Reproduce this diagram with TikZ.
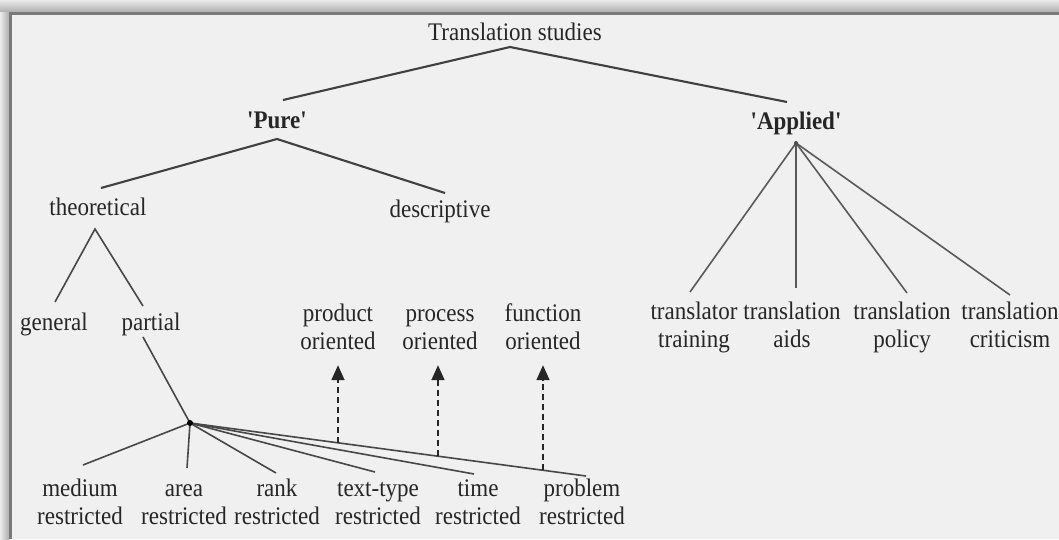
\documentclass[tikz,border=0pt]{standalone}
\usepackage{fontspec}
\setmainfont{Liberation Serif}
\usetikzlibrary{arrows.meta,calc}
\newcommand\tl[1]{\scalebox{1}[1.1]{\strut #1}}
\begin{document}
\begin{tikzpicture}[x=1pt,y=-1pt,
  lbl/.style={font=\fontsize{23}{25}\selectfont, text=black!85, inner sep=0pt, align=center},
  bld/.style={lbl, font=\fontsize{23}{25}\selectfont\bfseries},
  branch/.style={draw=black!75, line width=2.1pt},
  twig/.style={draw=black!72, line width=1.6pt},
  darr/.style={draw=black!85, line width=1.7pt, dash pattern=on 6pt off 4pt,
               -{Triangle[width=13pt,length=15pt]}}]
% background and frame
\useasboundingbox (0,0) rectangle (1059,539);
\fill[black!6] (0,0) rectangle (1059,539);
\shade[top color=black!8, bottom color=black!32] (0,0) rectangle (1059,12);
\shade[left color=black!8, right color=black!32] (0,12) rectangle (9,539);
\draw[black!52, line width=3pt] (9,13.5) -- (1059,13.5);
\draw[black!52, line width=3pt] (10.5,12) -- (10.5,539);

% nodes
\node[lbl] (ts) at (515,35) {\tl{Translation studies}};
\node[bld] (pure) at (277,123) {\tl{\textquotesingle Pure\textquotesingle}};
\node[bld] (appl) at (796,124) {\tl{\textquotesingle Applied\textquotesingle}};
\node[lbl] (theo) at (98,210) {\tl{theoretical}};
\node[lbl] (desc) at (440,212) {\tl{descriptive}};
\node[lbl] (gen) at (54,325) {\tl{general}};
\node[lbl] (part) at (151,325) {\tl{partial}};
\node[lbl] (prod) at (338,330) {\tl{product}\\\tl{oriented}};
\node[lbl] (proc) at (440,330) {\tl{process}\\\tl{oriented}};
\node[lbl] (func) at (543,330) {\tl{function}\\\tl{oriented}};
\node[lbl] (trtr) at (694,328) {\tl{translator}\\\tl{training}};
\node[lbl] (traid) at (792,328) {\tl{translation}\\\tl{aids}};
\node[lbl] (trpol) at (902,328) {\tl{translation}\\\tl{policy}};
\node[lbl] (trcrit) at (1010,328) {\tl{translation}\\\tl{criticism}};
\node[lbl] (med) at (80,505) {\tl{medium}\\\tl{restricted}};
\node[lbl] (area) at (184,505) {\tl{area}\\\tl{restricted}};
\node[lbl] (rank) at (277,505) {\tl{rank}\\\tl{restricted}};
\node[lbl] (ttype) at (378,505) {\tl{text-type}\\\tl{restricted}};
\node[lbl] (time) at (478,505) {\tl{time}\\\tl{restricted}};
\node[lbl] (prob) at (582,505) {\tl{problem}\\\tl{restricted}};

% branch points and ends
\coordinate (tsA) at (510,47);
\coordinate (pureT) at (283,100);
\coordinate (applT) at (787,102);
\coordinate (pureA) at (277,139);
\coordinate (theoT) at (101,188);
\coordinate (descT) at (445,193);
\coordinate (theoA) at (95,229);
\coordinate (genT) at (55,302);
\coordinate (partT) at (143,306);
\coordinate (partB) at (143,337);
\coordinate (hub) at (190,423);
\coordinate (medT) at (83,465);
\coordinate (areaT) at (187,468);
\coordinate (rankT) at (276,473);
\coordinate (ttypeT) at (375,472);
\coordinate (timeT) at (474,474);
\coordinate (probT) at (586,476);
\coordinate (applA) at (796,143);
\coordinate (trtrT) at (690,292);
\coordinate (traidT) at (796,288);
\coordinate (trpolT) at (907,293);
\coordinate (trcritT) at (1010,295);

% connectors
\draw[branch] (pureT) -- (tsA) -- (applT);
\draw[branch] (theoT) -- (pureA) -- (descT);
\draw[twig] (genT) -- (theoA) -- (partT);
\draw[twig] (partB) -- (hub);
\foreach \e in {medT,areaT,rankT,ttypeT,timeT,probT}
  \draw[twig] (hub) -- (\e);
\foreach \e in {trtrT,traidT,trpolT,trcritT}
  \draw[twig, draw=black!65] (applA) -- (\e);
\fill[black] (hub) circle (3pt);
\fill[black!70] (applA) circle (2pt);

% dashed arrows from the problem line
\coordinate (m1) at ($(hub)!{(338-190)/(586-190)}!(probT)$);
\coordinate (m2) at ($(hub)!{(438-190)/(586-190)}!(probT)$);
\coordinate (m3) at ($(hub)!{(543-190)/(586-190)}!(probT)$);
\draw[darr] (m1) -- ([yshift=-7pt]prod.south -| m1);
\draw[darr] (m2) -- ([yshift=-7pt]proc.south -| m2);
\draw[darr] (m3) -- ([yshift=-7pt]func.south -| m3);
\end{tikzpicture}
\end{document}
